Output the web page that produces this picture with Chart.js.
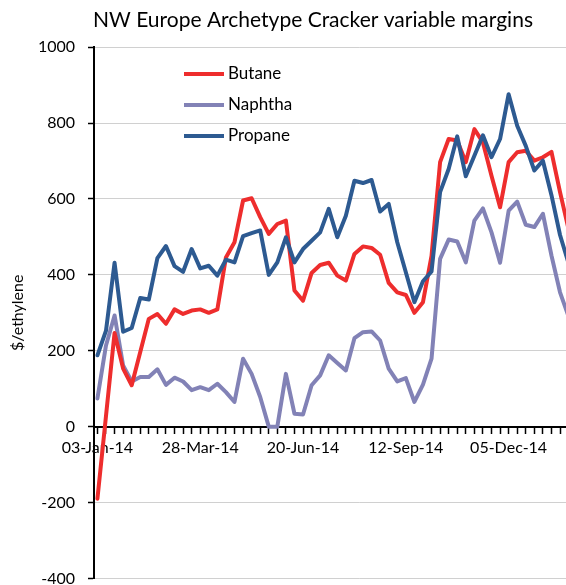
<!DOCTYPE html>
<html>
<head>
<meta charset="utf-8">
<script src="https://cdn.jsdelivr.net/npm/chart.js@4.4.1/dist/chart.umd.min.js"></script>
<style>
  html, body { margin: 0; padding: 0; background: #fff; overflow: hidden; }
  #wrap { width: 626px; height: 601px; position: relative; }
</style>
</head>
<body>
<div id="wrap"><canvas id="chart" width="626" height="601"></canvas></div>
<script>
// weekly values from 03-Jan-14, $/t ethylene
const tickLabels = ['03-Jan-14', '28-Mar-14', '20-Jun-14', '12-Sep-14', '05-Dec-14'];
const butane = [-190, 28, 247, 153, 109, 197, 284, 297, 271, 309, 297, 306, 309, 300, 309,
    446, 486, 596, 602, 552, 508, 534, 543, 359, 332, 405, 426, 432, 398, 385, 455, 475,
    471, 453, 379, 354, 347, 300, 328, 450, 697, 758, 754, 697, 784, 749, 661, 578, 697,
    723, 727, 701, 710, 724, 618, 520];
const naphtha = [74, 214, 293, 161, 119, 131, 131, 151, 110, 129, 119, 96, 104, 96, 113,
    91, 65, 179, 139, 78, 0, 0, 139, 34, 32, 109, 135, 188, 168, 148, 233, 249,
    251, 227, 153, 119, 128, 65, 111, 179, 442, 493, 488, 433, 543, 575, 512, 432, 569,
    593, 532, 526, 561, 451, 354, 290];
const propane = [188, 253, 432, 250, 260, 339, 335, 444, 476, 423, 408, 468, 417, 424, 398,
    440, 433, 502, 510, 517, 400, 433, 499, 433, 468, 490, 512, 574, 499, 556, 648, 642,
    650, 567, 587, 486, 407, 328, 383, 409, 618, 679, 765, 660, 714, 768, 710, 758, 876,
    793, 740, 675, 701, 610, 505, 430];

const font = 'Lato';

function toPoints(arr) {
    return arr.map((v, i) => ({ x: i, y: v }));
}

// legend drawn inside the plot, top left
const insideLegend = {
    id: 'insideLegend',
    afterDatasetsDraw(chart) {
        const ctx = chart.ctx;
        ctx.save();
        ctx.font = '17px ' + font;
        ctx.textBaseline = 'middle';
        ctx.fillStyle = '#000';
        chart.data.datasets.forEach((ds, i) => {
            const y = 74 + i * 31;
            ctx.strokeStyle = ds.borderColor;
            ctx.lineWidth = 4;
            ctx.beginPath();
            ctx.moveTo(184, y);
            ctx.lineTo(224, y);
            ctx.stroke();
            ctx.fillText(ds.label, 228, y);
        });
        ctx.restore();
    }
};

const ctx = document.getElementById('chart');
new Chart(ctx, {
    type: 'line',
    data: {
        datasets: [
            {
                label: 'Butane',
                data: toPoints(butane),
                borderColor: 'rgb(238, 45, 45)',
                borderWidth: 4,
                order: 2
            },
            {
                label: 'Naphtha',
                data: toPoints(naphtha),
                borderColor: 'rgb(130, 130, 182)',
                borderWidth: 4,
                order: 3
            },
            {
                label: 'Propane',
                data: toPoints(propane),
                borderColor: 'rgb(45, 90, 145)',
                borderWidth: 4,
                order: 1
            }
        ]
    },
    options: {
        responsive: false,
        animation: false,
        devicePixelRatio: 1,
        layout: { padding: { left: 0, right: 0, top: 0, bottom: 7 } },
        elements: {
            point: { radius: 0 },
            line: { tension: 0, borderCapStyle: 'round', borderJoinStyle: 'round' }
        },
        plugins: {
            legend: { display: false },
            tooltip: { enabled: false },
            title: {
                display: true,
                text: 'NW Europe Archetype Cracker variable margins',
                color: '#000',
                font: { family: font, size: 21, weight: 'normal' },
                padding: { top: 8, bottom: 14 }
            }
        },
        scales: {
            x: {
                type: 'linear',
                position: { y: 0 },
                min: -0.4,
                max: 61.4,
                afterFit(scale) { scale.height = 0; },
                border: { display: true, color: '#000', width: 2 },
                grid: {
                    display: true,
                    drawOnChartArea: false,
                    drawTicks: true,
                    tickLength: 6,
                    tickColor: '#000',
                    tickWidth: 1.5
                },
                ticks: {
                    stepSize: 1,
                    autoSkip: false,
                    includeBounds: false,
                    maxRotation: 0,
                    padding: 6,
                    color: '#000',
                    font: { family: font, size: 16 },
                    callback: (v) => (v % 12 === 0 && tickLabels[v / 12]) ? tickLabels[v / 12] : ''
                }
            },
            y: {
                min: -400,
                max: 1000,
                afterFit(scale) { scale.width = 94; },
                border: { display: true, color: '#000', width: 2 },
                grid: {
                    color: (c) => c.tick.value === 0 ? 'rgba(0,0,0,0)' : '#d0d0d0',
                    borderDash: [2, 2],
                    tickColor: '#000',
                    tickLength: 6,
                    tickWidth: 1.5,
                    tickBorderDash: []
                },
                ticks: {
                    stepSize: 200,
                    padding: 13,
                    color: '#000',
                    font: { family: font, size: 16 },
                    callback: (v) => String(v)
                },
                title: {
                    display: true,
                    text: '$/ethylene',
                    color: '#000',
                    font: { family: font, size: 16 },
                    padding: { top: 8, bottom: 0 }
                }
            }
        }
    },
    plugins: [insideLegend]
});
</script>
</body>
</html>
